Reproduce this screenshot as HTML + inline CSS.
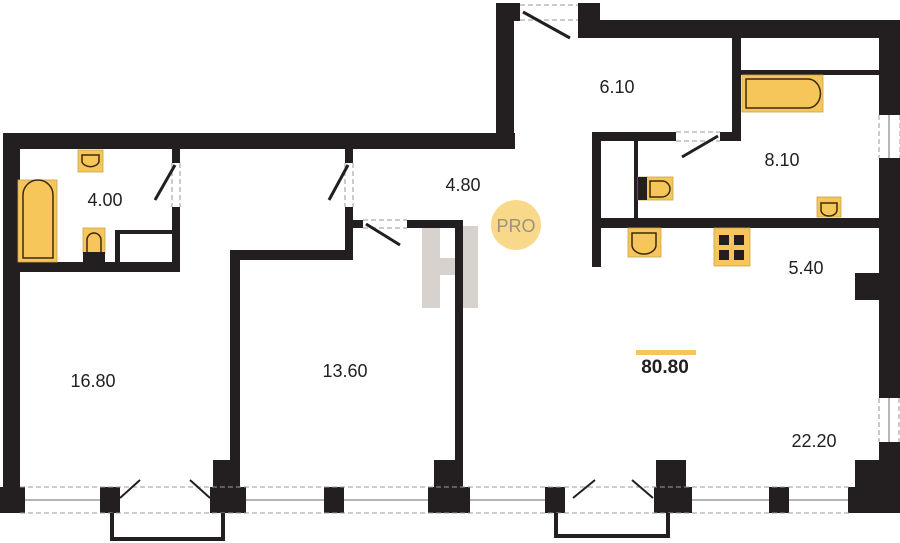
<!DOCTYPE html>
<html><head><style>
body{margin:0;background:#fff;}
svg{display:block;font-family:"Liberation Sans",sans-serif;}
</style></head><body>
<svg width="900" height="543" viewBox="0 0 900 543" xmlns="http://www.w3.org/2000/svg">
<rect width="900" height="543" fill="#fff"/>
<!-- watermark -->
<g fill="#cfc8c2" opacity="0.8">
<rect x="422" y="226" width="18" height="82"/>
<rect x="461" y="226" width="17" height="82"/>
<rect x="440" y="258" width="21" height="17"/>
</g>
<!-- PRO -->
<circle cx="516" cy="225" r="25" fill="#f8d98a"/>
<text x="516" y="232" font-size="18" fill="#9b927f" text-anchor="middle">PRO</text>
<g fill="#231f20">
<!-- left outer -->
<rect x="3" y="133" width="17" height="380"/>
<rect x="3" y="133" width="512" height="16"/>
<rect x="496" y="3" width="18" height="146"/>
<rect x="496" y="3" width="24" height="18"/>
<rect x="578" y="3" width="22" height="35"/>
<rect x="583" y="20" width="317" height="18"/>
<rect x="879" y="20" width="21" height="95"/>
<rect x="879" y="158" width="21" height="240"/>
<rect x="879" y="442" width="21" height="45"/>
<!-- bathroom 4.00 -->
<rect x="172" y="149" width="8" height="14"/>
<rect x="172" y="207" width="8" height="65"/>
<rect x="18" y="262" width="162" height="10"/>
<rect x="115" y="230" width="5" height="33"/>
<rect x="115" y="230" width="60" height="4"/>
<!-- corridor walls -->
<rect x="345" y="149" width="8" height="14"/>
<rect x="345" y="207" width="8" height="53"/>
<rect x="230" y="250" width="123" height="10"/>
<rect x="230" y="250" width="10" height="237"/>
<rect x="353" y="220" width="10" height="8"/>
<rect x="407" y="220" width="56" height="8"/>
<rect x="455" y="220" width="8" height="267"/>
<!-- right block -->
<rect x="732" y="38" width="9" height="102"/>
<rect x="741" y="70" width="138" height="5"/>
<rect x="592" y="132" width="84" height="9"/>
<rect x="720" y="132" width="21" height="9"/>
<rect x="592" y="132" width="9" height="135"/>
<rect x="634" y="140" width="4" height="82"/>
<rect x="600" y="218" width="279" height="10"/>
<rect x="855" y="273" width="24" height="27"/>
<!-- bottom piers -->
<rect x="0" y="487" width="25" height="26"/>
<rect x="100" y="487" width="20" height="26"/>
<rect x="213" y="460" width="25" height="27"/>
<rect x="210" y="487" width="36" height="26"/>
<rect x="324" y="487" width="20" height="26"/>
<rect x="434" y="460" width="28" height="27"/>
<rect x="428" y="487" width="42" height="26"/>
<rect x="545" y="487" width="20" height="26"/>
<rect x="656" y="460" width="30" height="27"/>
<rect x="654" y="487" width="38" height="26"/>
<rect x="769" y="487" width="20" height="26"/>
<rect x="855" y="460" width="30" height="27"/>
<rect x="848" y="487" width="52" height="26"/>
</g>
<!-- windows -->
<g stroke="#999" stroke-width="1" stroke-dasharray="5,3" fill="none">
<line x1="20" y1="487" x2="850" y2="487"/>
<line x1="20" y1="513" x2="850" y2="513"/>
<line x1="879" y1="115" x2="879" y2="158"/><line x1="900" y1="115" x2="900" y2="158"/>
<line x1="879" y1="398" x2="879" y2="442"/><line x1="899" y1="398" x2="899" y2="442"/>
<line x1="520" y1="5" x2="578" y2="5"/><line x1="520" y1="20" x2="578" y2="20"/>
<line x1="172" y1="163" x2="172" y2="207"/><line x1="180" y1="163" x2="180" y2="207"/>
<line x1="345" y1="163" x2="345" y2="207"/><line x1="353" y1="163" x2="353" y2="207"/>
<line x1="363" y1="220" x2="407" y2="220"/><line x1="363" y1="228" x2="407" y2="228"/>
<line x1="676" y1="132" x2="720" y2="132"/><line x1="676" y1="141" x2="720" y2="141"/>
</g>
<g stroke="#888" stroke-width="1.2">
<line x1="25" y1="500" x2="100" y2="500"/><line x1="246" y1="500" x2="324" y2="500"/>
<line x1="344" y1="500" x2="428" y2="500"/><line x1="470" y1="500" x2="545" y2="500"/>
<line x1="692" y1="500" x2="769" y2="500"/><line x1="789" y1="500" x2="848" y2="500"/>
<line x1="889" y1="115" x2="889" y2="158"/><line x1="889" y1="398" x2="889" y2="442"/>
</g>
<!-- doors -->
<g stroke="#231f20" stroke-width="3" fill="none">
<line x1="523" y1="12" x2="570" y2="38"/>
<line x1="175" y1="165" x2="155" y2="200"/>
<line x1="348" y1="165" x2="329" y2="200"/>
<line x1="366" y1="224" x2="400" y2="245"/>
<line x1="718" y1="136" x2="682" y2="157"/>
<path d="M120 498 L140 480 M210 498 L190 480 M573 498 L595 480 M653 498 L632 480" stroke-width="2"/>
</g>
<!-- balconies -->
<g stroke="#231f20" stroke-width="4" fill="none">
<path d="M112 513 V539 H223 V513"/>
<path d="M556 513 V536 H668 V513"/>
</g>
<!-- fixtures -->
<g fill="#f6c65b" stroke="#c9a24a" stroke-width="0.8">
<rect x="18" y="180" width="39" height="82"/>
<rect x="78" y="150" width="25" height="22"/>
<rect x="83" y="228" width="22" height="26"/>
<rect x="742" y="75" width="81" height="37"/>
<rect x="638" y="177" width="35" height="23"/>
<rect x="817" y="197" width="24" height="20"/>
<rect x="628" y="228" width="33" height="29"/>
<rect x="714" y="228" width="36" height="38"/>
</g>
<g fill="none" stroke="#3a2a10" stroke-width="1.5">
<path d="M23 258 V195 A14 14 0 0 1 53 195 V258 Z"/>
<path d="M82 155 H99 V162 A9 7 0 0 1 82 162 Z"/>
<path d="M87 252 V240 A7 7 0 0 1 101 240 V252"/>
<path d="M746 79 H808 A12 14 0 0 1 808 108 H746 Z"/>
<path d="M650 181 H662 A8 8 0 0 1 662 197 H650 Z"/>
<path d="M821 203 H837 V210 A8 6 0 0 1 821 210 Z"/>
<path d="M632 233 H656 V245 A12 9 0 0 1 632 245 Z"/>
</g>
<rect x="83" y="252" width="22" height="10" fill="#231f20"/>
<rect x="638" y="177" width="9" height="23" fill="#231f20"/>
<g fill="#231f20">
<rect x="719" y="235" width="10" height="10"/><rect x="734" y="235" width="10" height="10"/>
<rect x="719" y="250" width="10" height="10"/><rect x="734" y="250" width="10" height="10"/>
</g>
<!-- labels -->
<g font-size="18" fill="#231f20" text-anchor="middle">
<text x="105" y="206">4.00</text>
<text x="463" y="191">4.80</text>
<text x="617" y="93">6.10</text>
<text x="782" y="166">8.10</text>
<text x="806" y="274">5.40</text>
<text x="93" y="387">16.80</text>
<text x="345" y="377">13.60</text>
<text x="814" y="447">22.20</text>
</g>
<rect x="636" y="350" width="60" height="5" fill="#f6c65b"/>
<text x="665" y="373" font-size="19" font-weight="bold" fill="#231f20" text-anchor="middle">80.80</text>
</svg>
</body></html>
